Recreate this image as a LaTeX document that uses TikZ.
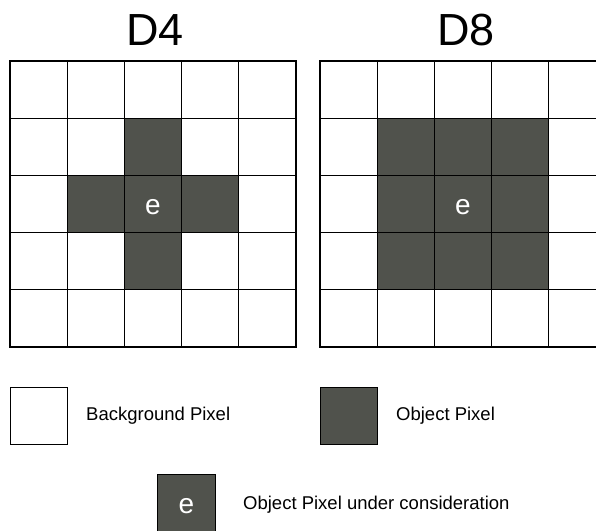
\documentclass[tikz,border=0pt]{standalone}
\usepackage{fontspec}
\setmainfont{Liberation Sans}
\definecolor{obj}{RGB}{80,82,76}
\begin{document}
\begin{tikzpicture}[x=1pt,y=-1pt,
  cell/.style={draw=black, line width=1.2pt, minimum size=57.2pt, inner sep=0pt, outer sep=0pt, fill=white},
  objcell/.style={cell, fill=obj, text=white, font=\fontsize{28}{32}\selectfont, text height=20pt, text depth=0pt},
  legbox/.style={draw=black, line width=1.2pt, minimum width=57.5pt, minimum height=57.5pt, inner sep=0pt, outer sep=0pt},
  title/.style={font=\fontsize{45}{54}\selectfont, anchor=base, inner sep=0pt},
  lbl/.style={font=\fontsize{18.5}{22}\selectfont, anchor=west, inner sep=0pt}]
\useasboundingbox (0,0) rectangle (596,530);
\begin{scope}
\clip (0,0) rectangle (596,530);
% titles
\node[title] (t4) at (155,45) {D4};
\node[title] (t8) at (466,45) {D8};
% D4 grid
\foreach \r in {0,...,4} {
  \foreach \c in {0,...,4} {
    \pgfmathtruncatemacro{\isobj}{(abs(\r-2)+abs(\c-2))<=1 ? 1 : 0}
    \pgfmathtruncatemacro{\isctr}{(\r==2 && \c==2) ? 1 : 0}
    \def\st{cell}\def\txt{}
    \ifnum\isobj=1 \def\st{objcell}\fi
    \ifnum\isctr=1 \def\txt{e}\fi
    \node[\st] (A-\r-\c) at ({10+(\c+0.5)*57.2},{61+(\r+0.5)*57.2}) {\txt};
  }
}
% D8 grid
\foreach \r in {0,...,4} {
  \foreach \c in {0,...,4} {
    \pgfmathtruncatemacro{\isobj}{max(abs(\r-2),abs(\c-2))<=1 ? 1 : 0}
    \pgfmathtruncatemacro{\isctr}{(\r==2 && \c==2) ? 1 : 0}
    \def\st{cell}\def\txt{}
    \ifnum\isobj=1 \def\st{objcell}\fi
    \ifnum\isctr=1 \def\txt{e}\fi
    \node[\st] (B-\r-\c) at ({320+(\c+0.5)*57.2},{61+(\r+0.5)*57.2}) {\txt};
  }
}
% legend
\node[legbox, fill=white] (bg) at (39,416) {};
\node[lbl] (bgl) at (86,416) {Background Pixel};
\node[legbox, fill=obj] (ob) at (349,416) {};
\node[lbl] (obl) at (396,416) {Object Pixel};
\node[legbox, fill=obj, text=white, font=\fontsize{28}{32}\selectfont, text height=20pt, text depth=0pt] (eb) at (186.5,503.5) {e};
\node[lbl] (ebl) at (243,505) {Object Pixel under consideration};
\end{scope}
\end{tikzpicture}
\end{document}
